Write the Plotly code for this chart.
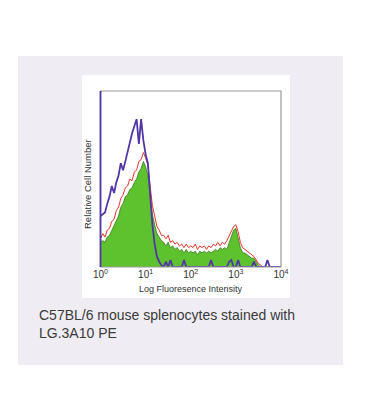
import plotly.graph_objects as go

# log10 fluorescence channel positions (bin centres), 10^0 .. 10^4
log_bins = [0.00, 0.05, 0.10, 0.15, 0.20, 0.25, 0.30, 0.35, 0.40, 0.45,
            0.50, 0.55, 0.60, 0.65, 0.70, 0.75, 0.80, 0.85, 0.90, 0.95,
            1.00, 1.05, 1.10, 1.15, 1.20, 1.25, 1.30, 1.35, 1.40, 1.45,
            1.50, 1.55, 1.60, 1.65, 1.70, 1.75, 1.80, 1.85, 1.90, 1.95,
            2.00, 2.05, 2.10, 2.15, 2.20, 2.25, 2.30, 2.35, 2.40, 2.45,
            2.50, 2.55, 2.60, 2.65, 2.70, 2.75, 2.80, 2.85, 2.90, 2.95,
            3.00, 3.05, 3.10, 3.15, 3.20, 3.25, 3.30, 3.35, 3.40, 3.45,
            3.50, 3.55, 3.60, 3.65, 3.70, 3.75, 3.80, 3.85, 3.90, 3.95, 4.00]

# isotype control (purple)
isotype = [29, 30, 31, 36, 40, 46, 42, 48, 52, 59,
           55, 60, 66, 72, 76, 80, 84, 70, 84, 72,
           64, 59, 38, 24, 13, 6, 3, 1, 0, 3,
           0, 4, 0, 0, 0, 0, 0, 4, 0, 0,
           0, 0, 0, 0, 0, 0, 0, 0, 0, 4,
           0, 0, 0, 0, 0, 0, 0, 3, 4, 0,
           0, 4, 0, 0, 0, 0, 0, 0, 3, 0,
           0, 0, 0, 0, 4, 0, 0, 0, 0, 0, 0]

# LG.3A10 PE stained (green fill)
stained = [14, 15, 14, 17, 18, 21, 23, 27, 29, 34,
           36, 40, 41, 44, 45, 48, 50, 54, 56, 60,
           57, 52, 40, 30, 24, 19, 17, 15, 14, 12,
           14, 11, 12, 10, 11, 9, 10, 8, 10, 8,
           9, 8, 9, 7, 9, 8, 9, 8, 9, 8,
           9, 10, 9, 11, 10, 11, 10, 14, 18, 21,
           22, 16, 11, 8, 8, 7, 6, 5, 5, 3,
           1, 0, 0, 0, 0, 0, 0, 0, 0, 0, 0]

# second stained replicate (red line)
stained_red = [16, 19, 17, 21, 22, 26, 27, 32, 34, 39,
               41, 45, 46, 50, 49, 54, 55, 60, 61, 65,
               62, 58, 46, 35, 29, 23, 21, 18, 18, 16,
               18, 14, 15, 13, 14, 12, 13, 11, 13, 11,
               12, 11, 13, 10, 12, 11, 12, 10, 12, 11,
               13, 12, 14, 12, 14, 13, 15, 18, 21, 23,
               24, 20, 14, 11, 10, 9, 8, 7, 6, 4,
               2, 1, 0, 0, 0, 0, 0, 0, 0, 0, 0]

tick_vals = [1, 10, 100, 1000, 10000]
tick_text = ["10<sup>0</sup>", "10<sup>1</sup>", "10<sup>2</sup>", "10<sup>3</sup>", "10<sup>4</sup>"]

x_vals = [10 ** v for v in log_bins]

W, H = 367, 414
def px(x):
    return x / W
def py(y):
    return 1 - y / H

FONT = "Liberation Sans, Arial, sans-serif"
PURPLE = "#5236a6"

fig = go.Figure()
fig.add_trace(go.Scatter(x=x_vals, y=stained, mode="lines", fill="tozeroy",
                         fillcolor="#5ec22e", line=dict(color="#3a7a20", width=0.8),
                         hoverinfo="skip"))
fig.add_trace(go.Scatter(x=x_vals, y=stained_red, mode="lines",
                         line=dict(color="#e2372c", width=1),
                         hoverinfo="skip"))
fig.add_trace(go.Scatter(x=x_vals, y=isotype, mode="lines",
                         line=dict(color=PURPLE, width=1.8),
                         hoverinfo="skip"))

fig.update_layout(
    width=W, height=H, autosize=False,
    margin=dict(l=0, r=0, t=0, b=0, autoexpand=False),
    paper_bgcolor="white",
    plot_bgcolor="rgba(0,0,0,0)",
    showlegend=False,
    xaxis=dict(type="log", range=[0, 4], domain=[px(100.5), px(281)],
               tickvals=tick_vals, ticktext=tick_text, showgrid=False,
               zeroline=False, showline=False, ticks="",
               tickfont=dict(family=FONT, size=10, color="#333")),
    yaxis=dict(range=[0, 100], domain=[py(267), py(91)], showgrid=False,
               zeroline=False, showticklabels=False, showline=False, ticks=""),
    shapes=[
        dict(type="rect", xref="paper", yref="paper", x0=px(18), x1=px(343),
             y0=py(365), y1=py(56), fillcolor="#efedf3", line=dict(width=0), layer="below"),
        dict(type="rect", xref="paper", yref="paper", x0=px(82), x1=px(290),
             y0=py(298), y1=py(75), fillcolor="white", line=dict(width=0), layer="below"),
        dict(type="rect", xref="paper", yref="paper", x0=px(100.5), x1=px(281),
             y0=py(267), y1=py(91), line=dict(color="#9a9a9a", width=1.2), layer="above"),
        dict(type="line", xref="paper", yref="paper", x0=px(100.5), x1=px(100.5),
             y0=py(267), y1=py(91), line=dict(color=PURPLE, width=1.8), layer="above"),
    ],
    annotations=[
        dict(text="Log Fluoresence Intensity", xref="paper", yref="paper",
             x=px(191), y=py(289), xanchor="center", yanchor="middle", showarrow=False,
             font=dict(family=FONT, size=9, color="#333")),
        dict(text="Relative Cell Number", xref="paper", yref="paper",
             x=px(87), y=py(184), xanchor="center", yanchor="middle", showarrow=False,
             textangle=-90,
             font=dict(family=FONT, size=9.5, color="#333")),
        dict(text="C57BL/6 mouse splenocytes stained with", xref="paper", yref="paper",
             x=px(37), y=py(315), xanchor="left", yanchor="middle", showarrow=False,
             font=dict(family=FONT, size=14, color="#3a3a3a")),
        dict(text="LG.3A10 PE", xref="paper", yref="paper",
             x=px(37), y=py(333), xanchor="left", yanchor="middle", showarrow=False,
             font=dict(family=FONT, size=14, color="#3a3a3a")),
    ],
)

fig.write_html("out.html", config={"responsive": False, "displayModeBar": False},
               default_width="367px", default_height="414px",
               post_script="document.body.style.margin='0';document.body.style.padding='0';")
